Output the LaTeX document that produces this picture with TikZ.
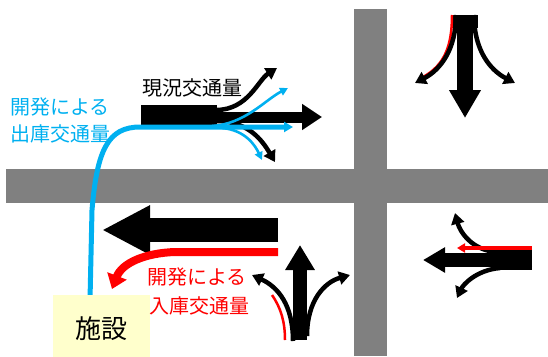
\documentclass[tikz,border=0pt]{standalone}
\usepackage{fontspec}
\newfontfamily\jp{Noto Sans CJK JP}
\usetikzlibrary{arrows.meta}
\definecolor{road}{HTML}{808080}
\definecolor{flowblue}{HTML}{00B0F0}
\definecolor{flowred}{HTML}{FF0000}
\definecolor{facil}{HTML}{FFFFCC}
\begin{document}
\begin{tikzpicture}[x=1pt,y=-1pt,
  lbl/.style={font=\jp\fontsize{20}{24}\selectfont, inner sep=0pt},
  thin arrow/.style={line width=4.5pt, -{Triangle[length=11pt,width=13pt]}},
  blue arrow/.style={flowblue, line width=2.6pt, -{Triangle[length=8pt,width=8pt]}}]
\useasboundingbox (0,0) rectangle (548,356);
% roads
\fill[road] (6,169) rectangle (548,203);
\fill[road] (354,9) rectangle (387,356);

% ---------- top-middle: current traffic (eastbound) ----------
\fill (141,105) rectangle (217,125);
\coordinate (tmA) at (216,110);
\coordinate (tmB) at (216,117);
\coordinate (tmC) at (216,121);
\draw[line width=11pt, -{Triangle[length=20pt,width=25pt]}] (tmB) -- (322,117);
\draw[thin arrow] (tmA) .. controls (248,110) and (258,80) .. (277,68);
\draw[thin arrow] (tmC) .. controls (248,121) and (262,140) .. (275,162);

% blue: outgoing from facility
\coordinate (bStart) at (90,300);
\coordinate (bCorner) at (140,127);
\coordinate (bSplit) at (217,127);
\draw[flowblue, line width=5pt, -{Triangle[length=9pt,width=10pt]}]
  (bStart) -- (92,210) .. controls (97,150) and (108,127) .. (bCorner) -- (bSplit) -- (293,127);
\draw[blue arrow] (212,126) .. controls (245,124) and (265,100) .. (288,88);
\draw[blue arrow] (222,128) .. controls (245,130) and (255,145) .. (262,160);

\node[lbl] (now) at (192,88) {現況交通量};
\node[lbl, anchor=west, text=flowblue] (outA) at (10,107) {開発による};
\node[lbl, anchor=west, text=flowblue] (outB) at (10,134) {出庫交通量};

% ---------- bottom-left: westbound + incoming red ----------
\draw[line width=24pt, -{Triangle[length=48pt,width=46pt]}] (278,230) -- (102,230);
\coordinate (rStart) at (278,252);
\draw[flowred, line width=8pt, -{Triangle[length=14pt,width=20pt]}]
  (rStart) -- (175,252) .. controls (145,253) and (122,263) .. (112,289);

% facility
\node[fill=facil, minimum width=97pt, minimum height=62pt, anchor=north west, inner sep=0pt] (fac) at (53,295) {};
\node[font=\jp\fontsize{26}{30}\selectfont, inner sep=0pt] (facT) at (101,329) {施設};

\node[lbl, anchor=west, text=flowred] (inA) at (147,277) {開発による};
\node[lbl, anchor=west, text=flowred] (inB) at (149,306) {入庫交通量};

% ---------- bottom-middle: northbound ----------
\coordinate (bmBase) at (300,340);
\draw[flowred, line width=2.5pt] (272,295) .. controls (281,308) and (285,322) .. (285,340);
\draw[thin arrow] (293,341) .. controls (293,305) and (278,287) .. (252,275);
\draw[thin arrow] (307,336) .. controls (307,300) and (325,282) .. (350,275);
\draw[line width=14pt, -{Triangle[length=25pt,width=28pt]}] (bmBase) -- (300,245);

% ---------- top-right: southbound ----------
\coordinate (trBase) at (465,15);
\fill (452,15) rectangle (478,28);
\draw[flowred, line width=2.5pt] (452,15) .. controls (452,45) and (445,65) .. (423,77);
\draw[thin arrow] (456,15) .. controls (456,50) and (440,70) .. (415,83);
\draw[thin arrow] (474,15) .. controls (474,50) and (490,70) .. (515,83);
\draw[line width=16pt, -{Triangle[length=28pt,width=30pt]}] (trBase) -- (465,118);

% ---------- bottom-right: westbound ----------
\coordinate (brBase) at (532,260);
\fill (493,250) rectangle (532,270);
\draw[thin arrow] (496,252) .. controls (472,250) and (460,232) .. (455,213);
\draw[thin arrow] (500,268) .. controls (476,270) and (463,285) .. (457,298);
\draw[line width=14pt, -{Triangle[length=22pt,width=24pt]}] (brBase) -- (423,260);
\draw[flowred, line width=4pt, -{Triangle[length=8pt,width=9pt]}] (532,248) -- (457,248);
\end{tikzpicture}
\end{document}
